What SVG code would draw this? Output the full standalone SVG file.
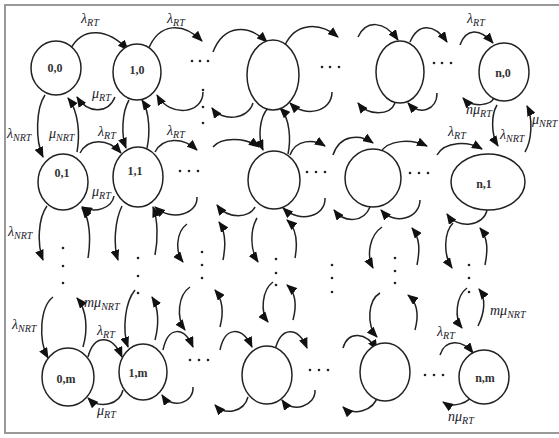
<svg xmlns="http://www.w3.org/2000/svg" width="559" height="438" viewBox="0 0 559 438">
<defs>
<style>
.nd{fill:#fff;stroke:#222;stroke-width:1.5}
.ar{fill:none;stroke:#222;stroke-width:1.5;marker-end:url(#ah)}
.nl{font-family:"Liberation Serif",serif;font-size:12px;font-weight:bold;fill:#333;text-anchor:middle}
.lb{font-family:"Liberation Serif",serif;font-style:italic;font-size:14px;fill:#1a1a2a}
.sb{font-size:10px}
.dt{fill:#222}
</style>
<marker id="ah" markerUnits="userSpaceOnUse" markerWidth="11" markerHeight="9" refX="10" refY="4.5" orient="auto">
<path d="M0,0 L11,4.5 L0,9 z" fill="#111"/>
</marker>
</defs>
<rect x="5" y="5" width="560" height="428" fill="#fff" stroke="#999" stroke-width="2"/>

<g id="connectors">
<!-- row 0 top -->
<path class="ar" d="M70 50 C82 26 108 28 128 50"/>
<path class="ar" d="M148 50 C159 22 183 22 202 41"/>
<path class="ar" d="M213 52 C224 24 248 24 267 42"/>
<path class="ar" d="M285 45 C296 22 320 22 338 37"/>
<path class="ar" d="M358 37 C366 20 384 20 398 40"/>
<path class="ar" d="M410 42 C418 23 434 23 447 42"/>
<path class="ar" d="M460 45 C466 28 480 28 493 43"/>
<!-- row 0 bottom -->
<path class="ar" d="M115 97 C108 114 88 114 77 97"/>
<path class="ar" d="M203 92 C203 114 170 118 157 95"/>
<path class="ar" d="M253 103 C248 120 222 122 212 108"/>
<path class="ar" d="M332 92 C332 112 305 118 290 103"/>
<path class="ar" d="M395 103 C390 116 368 116 358 103"/>
<path class="ar" d="M437 93 C437 110 420 116 408 103"/>
<path class="ar" d="M494 97 C492 106 472 108 463 98"/>
<!-- row 0-1 verticals -->
<path class="ar" d="M45 95 C36 108 35 140 43 157"/>
<path class="ar" d="M77 152 C80 135 79 112 68 98"/>
<path class="ar" d="M129 100 C122 112 121 135 126 148"/>
<path class="ar" d="M147 148 C150 135 150 112 142 100"/>
<path class="ar" d="M268 108 C259 118 258 138 263 150"/>
<path class="ar" d="M288 154 C291 140 290 118 280 108"/>
<path class="ar" d="M497 105 C491 115 491 135 498 146"/>
<path class="ar" d="M525 152 C532 140 533 118 527 106"/>
<!-- row 1 top -->
<path class="ar" d="M80 153 C88 138 108 138 121 153"/>
<path class="ar" d="M155 152 C163 137 183 137 197 150"/>
<path class="ar" d="M213 147 C221 137 245 137 259 147"/>
<path class="ar" d="M290 155 C296 139 314 139 325 146"/>
<path class="ar" d="M333 155 C340 134 360 134 373 143"/>
<path class="ar" d="M380 153 C388 139 412 139 427 146"/>
<path class="ar" d="M437 155 C445 141 468 141 482 149"/>
<!-- row 1 bottom -->
<path class="ar" d="M114 196 C112 208 95 214 82 207"/>
<path class="ar" d="M197 197 C198 214 172 222 155 207"/>
<path class="ar" d="M255 207 C250 218 228 220 217 205"/>
<path class="ar" d="M325 198 C326 216 300 224 283 208"/>
<path class="ar" d="M370 207 C364 222 345 224 334 210"/>
<path class="ar" d="M420 200 C420 218 395 226 381 210"/>
<path class="ar" d="M487 210 C484 226 458 230 447 214"/>
<!-- row 1 down to dots -->
<path class="ar" d="M47 206 C38 218 37 245 43 260"/>
<path class="ar" d="M88 258 C91 240 90 218 82 208"/>
<path class="ar" d="M122 206 C115 220 113 245 118 260"/>
<path class="ar" d="M155 255 C158 240 158 220 153 207"/>
<path class="ar" d="M187 224 C176 232 175 252 183 262"/>
<path class="ar" d="M223 260 C226 245 226 232 219 222"/>
<path class="ar" d="M257 218 C250 230 250 250 258 262"/>
<path class="ar" d="M295 258 C298 242 296 228 287 220"/>
<path class="ar" d="M382 227 C370 235 366 255 373 268"/>
<path class="ar" d="M417 265 C420 250 420 238 412 228"/>
<path class="ar" d="M453 223 C444 232 443 255 452 268"/>
<path class="ar" d="M485 265 C488 250 488 238 480 228"/>
<!-- dots down to row m -->
<path class="ar" d="M53 297 C40 307 38 340 48 358"/>
<path class="ar" d="M83 347 C88 330 87 310 77 298"/>
<path class="ar" d="M135 290 C125 302 122 330 128 347"/>
<path class="ar" d="M155 340 C159 325 159 308 152 297"/>
<path class="ar" d="M190 287 C178 295 176 318 185 330"/>
<path class="ar" d="M220 327 C224 312 223 300 215 290"/>
<path class="ar" d="M273 282 C262 290 260 312 268 322"/>
<path class="ar" d="M293 320 C297 305 296 293 287 285"/>
<path class="ar" d="M380 293 C368 300 366 325 377 337"/>
<path class="ar" d="M415 330 C419 315 418 303 408 295"/>
<path class="ar" d="M467 288 C456 296 454 318 462 328"/>
<path class="ar" d="M478 326 C485 312 486 298 479 289"/>
<!-- row m top -->
<path class="ar" d="M88 357 C94 334 112 334 122 357"/>
<path class="ar" d="M163 350 C168 326 184 326 193 347"/>
<path class="ar" d="M220 350 C225 326 242 326 252 347"/>
<path class="ar" d="M275 350 C281 326 298 326 307 348"/>
<path class="ar" d="M343 348 C348 331 366 331 377 350"/>
<path class="ar" d="M440 355 C445 339 462 339 473 353"/>
<!-- row m bottom -->
<path class="ar" d="M123 390 C120 404 100 410 88 398"/>
<path class="ar" d="M193 387 C194 403 172 410 162 395"/>
<path class="ar" d="M248 397 C244 412 225 416 215 405"/>
<path class="ar" d="M315 390 C316 406 292 414 282 400"/>
<path class="ar" d="M378 395 C374 412 352 416 343 407"/>
<path class="ar" d="M473 393 C470 404 452 408 443 402"/>
</g>

<g id="n-0-0"><ellipse class="nd" cx="56" cy="68" rx="25" ry="27"/><text class="nl" x="55" y="72">0,0</text></g>
<g id="n-1-0"><ellipse class="nd" cx="137" cy="72" rx="24" ry="28"/><text class="nl" x="137" y="74">1,0</text></g>
<g id="n-i-0"><ellipse class="nd" cx="273" cy="75" rx="26" ry="35"/></g>
<g id="n-j-0"><ellipse class="nd" cx="400" cy="72" rx="24" ry="31"/></g>
<g id="n-n-0"><ellipse class="nd" cx="504" cy="72" rx="25" ry="29"/><text class="nl" x="503" y="77">n,0</text></g>

<g id="n-0-1"><ellipse class="nd" cx="63" cy="182" rx="25" ry="28"/><text class="nl" x="62" y="177">0,1</text></g>
<g id="n-1-1"><ellipse class="nd" cx="138" cy="177" rx="25" ry="30"/><text class="nl" x="135" y="175">1,1</text></g>
<g id="n-i-1"><ellipse class="nd" cx="274" cy="180" rx="26" ry="29"/></g>
<g id="n-j-1"><ellipse class="nd" cx="373" cy="178" rx="28" ry="29"/></g>
<g id="n-n-1"><ellipse class="nd" cx="488" cy="182" rx="37" ry="28"/><text class="nl" x="484" y="188">n,1</text></g>

<g id="n-0-m"><ellipse class="nd" cx="68" cy="377" rx="26" ry="29"/><text class="nl" x="66" y="383">0,m</text></g>
<g id="n-1-m"><ellipse class="nd" cx="143" cy="372" rx="24" ry="28"/><text class="nl" x="138" y="377">1,m</text></g>
<g id="n-i-m"><ellipse class="nd" cx="267" cy="375" rx="25" ry="29"/></g>
<g id="n-j-m"><ellipse class="nd" cx="385" cy="372" rx="25" ry="29"/></g>
<g id="n-n-m"><ellipse class="nd" cx="484" cy="377" rx="25" ry="27"/><text class="nl" x="485" y="382">n,m</text></g>

<g id="ellipses">
<circle class="dt" cx="192" cy="61" r="1.3"/><circle class="dt" cx="200" cy="61" r="1.3"/><circle class="dt" cx="208" cy="61" r="1.3"/>
<circle class="dt" cx="322" cy="67" r="1.3"/><circle class="dt" cx="330" cy="67" r="1.3"/><circle class="dt" cx="339" cy="67" r="1.3"/>
<circle class="dt" cx="434" cy="63" r="1.3"/><circle class="dt" cx="442" cy="63" r="1.3"/><circle class="dt" cx="451" cy="63" r="1.3"/>
<circle class="dt" cx="180" cy="171" r="1.3"/><circle class="dt" cx="189" cy="171" r="1.3"/><circle class="dt" cx="198" cy="171" r="1.3"/>
<circle class="dt" cx="307" cy="172" r="1.3"/><circle class="dt" cx="316" cy="172" r="1.3"/><circle class="dt" cx="325" cy="172" r="1.3"/>
<circle class="dt" cx="410" cy="173" r="1.3"/><circle class="dt" cx="419" cy="173" r="1.3"/><circle class="dt" cx="428" cy="173" r="1.3"/>
<circle class="dt" cx="190" cy="360" r="1.3"/><circle class="dt" cx="199" cy="360" r="1.3"/><circle class="dt" cx="208" cy="360" r="1.3"/>
<circle class="dt" cx="310" cy="370" r="1.3"/><circle class="dt" cx="319" cy="370" r="1.3"/><circle class="dt" cx="328" cy="370" r="1.3"/>
<circle class="dt" cx="425" cy="375" r="1.3"/><circle class="dt" cx="434" cy="375" r="1.3"/><circle class="dt" cx="443" cy="375" r="1.3"/>
<circle class="dt" cx="203" cy="90" r="1.3"/><circle class="dt" cx="203" cy="107" r="1.3"/><circle class="dt" cx="203" cy="123" r="1.3"/>
<circle class="dt" cx="63" cy="248" r="1.3"/><circle class="dt" cx="63" cy="266" r="1.3"/><circle class="dt" cx="63" cy="283" r="1.3"/>
<circle class="dt" cx="138" cy="258" r="1.3"/><circle class="dt" cx="138" cy="276" r="1.3"/><circle class="dt" cx="138" cy="293" r="1.3"/>
<circle class="dt" cx="202" cy="252" r="1.3"/><circle class="dt" cx="202" cy="265" r="1.3"/><circle class="dt" cx="202" cy="278" r="1.3"/>
<circle class="dt" cx="276" cy="259" r="1.3"/><circle class="dt" cx="276" cy="273" r="1.3"/><circle class="dt" cx="276" cy="285" r="1.3"/>
<circle class="dt" cx="332" cy="265" r="1.3"/><circle class="dt" cx="332" cy="278" r="1.3"/><circle class="dt" cx="332" cy="292" r="1.3"/>
<circle class="dt" cx="395" cy="258" r="1.3"/><circle class="dt" cx="395" cy="271" r="1.3"/><circle class="dt" cx="395" cy="283" r="1.3"/>
<circle class="dt" cx="469" cy="265" r="1.3"/><circle class="dt" cx="469" cy="278" r="1.3"/><circle class="dt" cx="469" cy="292" r="1.3"/>
</g>

<g id="labels">
<text class="lb" x="81" y="23">λ<tspan class="sb" dy="3">RT</tspan></text>
<text class="lb" x="167" y="23">λ<tspan class="sb" dy="3">RT</tspan></text>
<text class="lb" x="467" y="23">λ<tspan class="sb" dy="3">RT</tspan></text>
<text class="lb" x="92" y="98">μ<tspan class="sb" dy="3">RT</tspan></text>
<text class="lb" x="7" y="138">λ<tspan class="sb" dy="3">NRT</tspan></text>
<text class="lb" x="49" y="138">μ<tspan class="sb" dy="3">NRT</tspan></text>
<text class="lb" x="98" y="136">λ<tspan class="sb" dy="3">RT</tspan></text>
<text class="lb" x="167" y="135">λ<tspan class="sb" dy="3">RT</tspan></text>
<text class="lb" x="92" y="196">μ<tspan class="sb" dy="3">RT</tspan></text>
<text class="lb" x="466" y="114">nμ<tspan class="sb" dy="3">RT</tspan></text>
<text class="lb" x="500" y="139">λ<tspan class="sb" dy="3">NRT</tspan></text>
<text class="lb" x="532" y="124">μ<tspan class="sb" dy="3">NRT</tspan></text>
<text class="lb" x="448" y="136">λ<tspan class="sb" dy="3">RT</tspan></text>
<text class="lb" x="8" y="236">λ<tspan class="sb" dy="3">NRT</tspan></text>
<text class="lb" x="12" y="329">λ<tspan class="sb" dy="3">NRT</tspan></text>
<text class="lb" x="84" y="307">mμ<tspan class="sb" dy="3">NRT</tspan></text>
<text class="lb" x="97" y="335">λ<tspan class="sb" dy="3">RT</tspan></text>
<text class="lb" x="97" y="415">μ<tspan class="sb" dy="3">RT</tspan></text>
<text class="lb" x="490" y="315">mμ<tspan class="sb" dy="3">NRT</tspan></text>
<text class="lb" x="437" y="336">λ<tspan class="sb" dy="3">RT</tspan></text>
<text class="lb" x="448" y="421">nμ<tspan class="sb" dy="3">RT</tspan></text>
</g>
</svg>
